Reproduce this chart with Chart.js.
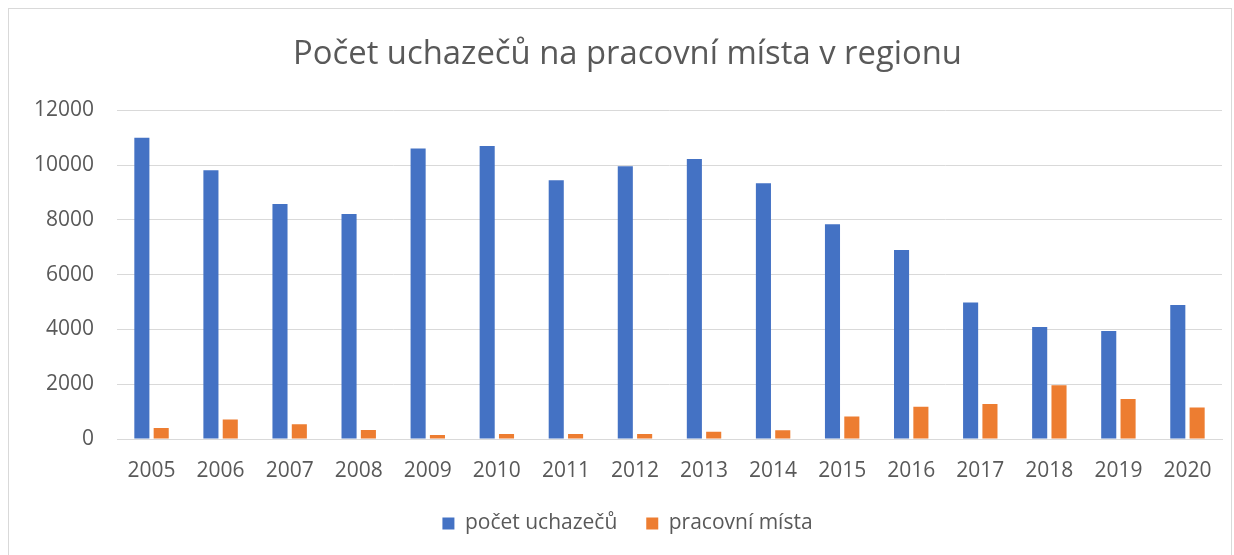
<!DOCTYPE html>
<html>
<head>
<meta charset="utf-8">
<script src="https://cdn.jsdelivr.net/npm/chart.js@4"></script>
<style>
  html, body { margin: 0; padding: 0; background: #fff; overflow: hidden; }
  #wrap { position: absolute; left: 8px; top: 8px; width: 1224px; height: 552px;
          border: 1px solid #d9d9d9; box-sizing: border-box; }
</style>
</head>
<body>
<div id="wrap"><canvas id="bars"></canvas></div>
<script>
const years = ['2005', '2006', '2007', '2008', '2009', '2010', '2011', '2012',
               '2013', '2014', '2015', '2016', '2017', '2018', '2019', '2020'];
const uchazeci = [11000, 9810, 8580, 8220, 10610, 10700, 9450, 9960,
                  10220, 9340, 7840, 6900, 4980, 4090, 3940, 4890];
const mista = [400, 710, 540, 330, 145, 180, 180, 180,
               265, 315, 820, 1180, 1280, 1960, 1460, 1150];
const yTicks = [0, 2000, 4000, 6000, 8000, 10000, 12000];

const ctx = document.getElementById('bars').getContext('2d');
Chart.defaults.font.family = "'Open Sans', 'Noto Sans', sans-serif";
Chart.defaults.color = '#595959';

window.barChart = new Chart(ctx, {
    type: 'bar',
    data: {
        labels: years,
        datasets: [{
            label: 'počet uchazečů',
            data: uchazeci,
            backgroundColor: '#4472c4',
            borderWidth: 0
        }, {
            label: 'pracovní místa',
            data: mista,
            backgroundColor: '#ed7d31',
            borderWidth: 0
        }]
    },
    options: {
        responsive: true,
        maintainAspectRatio: false,
        animation: false,
        // left padding pushes title + legend a bit right, like Excel does
        layout: { padding: { left: 24, right: 9, top: 0, bottom: 15 } },
        datasets: {
            bar: { categoryPercentage: 0.56, barPercentage: 0.78 }
        },
        plugins: {
            title: {
                display: true,
                text: 'Počet uchazečů na pracovní místa v regionu',
                color: '#595959',
                font: { size: 32.8, weight: 'normal' },
                padding: { top: 26, bottom: 36 }
            },
            legend: {
                position: 'bottom',
                labels: {
                    boxWidth: 12,
                    boxHeight: 12,
                    padding: 29,
                    font: { size: 21 }
                }
            },
            tooltip: { enabled: false }
        },
        scales: {
            x: {
                grid: { display: false },
                border: { color: '#d9d9d9', width: 1 },
                afterFit: (axis) => { axis.height = 45; },
                ticks: { font: { size: 21 }, padding: 11 }
            },
            y: {
                min: 0,
                max: 12000,
                afterBuildTicks: (axis) => { axis.ticks = yTicks.map(v => ({ value: v })); },
                afterFit: (axis) => { axis.width = 84; },
                grid: { color: '#d9d9d9', lineWidth: 1, drawTicks: false },
                border: { display: false },
                ticks: { font: { size: 21 }, padding: 23, callback: v => String(v) }
            }
        }
    }
});
</script>
</body>
</html>
